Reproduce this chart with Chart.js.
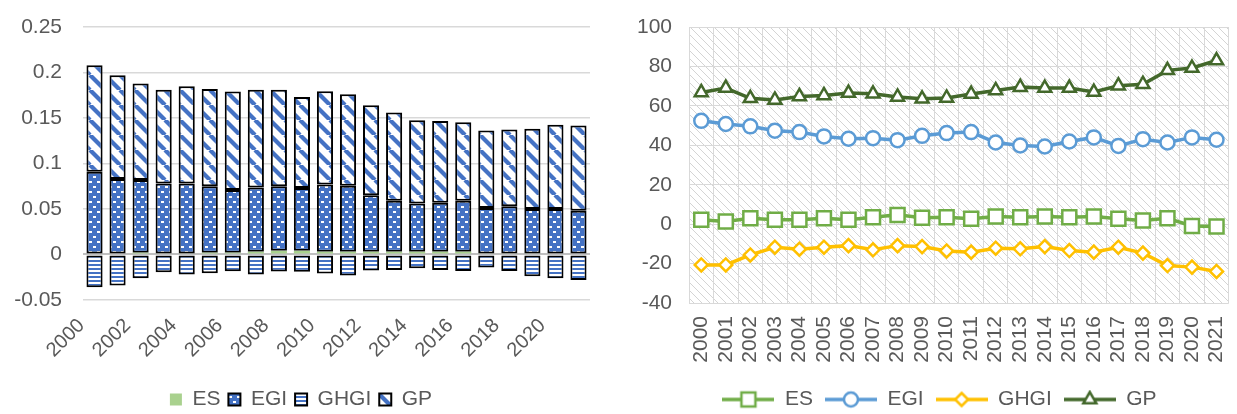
<!DOCTYPE html>
<html>
<head>
<meta charset="utf-8">
<script src="https://cdn.jsdelivr.net/npm/chart.js@4.4.1/dist/chart.umd.min.js"></script>
<style>
html, body { margin: 0; padding: 0; width: 1237px; height: 414px; overflow: hidden; background: #fff; }
#leftChart { position: absolute; left: 0; top: 0; }
#rightChart { position: absolute; left: 615px; top: 0; }
</style>
</head>
<body>
<canvas id="leftChart" width="615" height="420"></canvas>
<canvas id="rightChart" width="640" height="420"></canvas>
<script>
const years = ["2000", "2001", "2002", "2003", "2004", "2005", "2006", "2007", "2008", "2009", "2010",
    "2011", "2012", "2013", "2014", "2015", "2016", "2017", "2018", "2019", "2020", "2021"];

// left panel: stacked shares
const esShare = [0, 0, 0.002, 0.001, 0.001, 0.002, 0.002, 0.003, 0.004, 0.004, 0.003,
    0.003, 0.003, 0.003, 0.003, 0.003, 0.003, 0.001, 0.001, 0.001, 0, 0];
const egiShare = [0.091, 0.083, 0.080, 0.077, 0.077, 0.073, 0.069, 0.0705, 0.071, 0.069, 0.074,
    0.0725, 0.062, 0.056, 0.053, 0.054, 0.056, 0.050, 0.052, 0.049, 0.050, 0.048];
const ghgiShare = [-0.036, -0.034, -0.026, -0.0195, -0.022, -0.0206, -0.0184, -0.022, -0.0187, -0.019, -0.021,
    -0.023, -0.0176, -0.017, -0.015, -0.017, -0.018, -0.0143, -0.018, -0.024, -0.026, -0.028];
const gpShare = [0.117, 0.114, 0.106, 0.103, 0.107, 0.107, 0.108, 0.1075, 0.106, 0.100, 0.1025,
    0.1005, 0.099, 0.097, 0.0916, 0.0897, 0.0864, 0.0853, 0.0843, 0.0882, 0.0925, 0.0938];

// right panel: index lines
const esIndex = [2.2, 1.3, 3.0, 2.2, 2.2, 3.0, 2.2, 3.5, 4.7, 3.3, 3.5,
    2.7, 3.9, 3.5, 3.9, 3.5, 3.9, 2.7, 1.8, 3.0, -0.9, -1.2];
const egiIndex = [52.4, 50.8, 49.6, 47.4, 46.7, 44.5, 43.3, 43.6, 42.6, 44.8, 46.2,
    46.7, 41.4, 39.9, 39.4, 41.9, 44.0, 39.7, 43.1, 41.4, 44.0, 42.8];
const ghgiIndex = [-20.7, -20.7, -15.6, -11.7, -12.7, -11.7, -10.9, -13.0, -10.9, -11.4, -13.6,
    -14.2, -12.2, -12.5, -11.4, -13.4, -14.2, -11.7, -14.7, -21.0, -21.8, -24.0];
const gpIndex = [66.8, 69.0, 63.8, 63.0, 64.8, 65.3, 66.5, 66.1, 64.5, 63.6, 64.0,
    66.0, 67.8, 69.5, 69.0, 69.0, 67.0, 70.2, 71.0, 78.0, 79.2, 83.0];

const leftTicks = [-0.05, 0, 0.05, 0.1, 0.15, 0.2, 0.25];
const rightTicks = [-40, -20, 0, 20, 40, 60, 80, 100];

Chart.defaults.font.family = "'Liberation Sans', Arial, sans-serif";
Chart.defaults.font.size = 21;
Chart.defaults.color = "#595959";

function makePattern(w, h, draw) {
    const c = document.createElement("canvas");
    c.width = w;
    c.height = h;
    draw(c.getContext("2d"));
    return c.getContext("2d").createPattern(c, "repeat");
}

const blue = "#4472C4";
const egiFill = makePattern(8, 10, g => {
    g.fillStyle = blue; g.fillRect(0, 0, 8, 10);
    g.fillStyle = "#fff";
    g.fillRect(1, 1, 3, 2);
    g.fillRect(5, 6, 3, 2);
});
const ghgiFill = makePattern(4, 4, g => {
    g.fillStyle = blue; g.fillRect(0, 0, 4, 4);
    g.fillStyle = "#fff"; g.fillRect(0, 2, 4, 2);
});
const gpFill = makePattern(15, 15, g => {
    g.fillStyle = "#fff"; g.fillRect(0, 0, 15, 15);
    g.strokeStyle = blue; g.lineWidth = 4.2;
    [-15, 0, 15].forEach(o => {
        g.beginPath(); g.moveTo(o, 0); g.lineTo(o + 15, 15); g.stroke();
    });
});
const hatchFill = makePattern(8, 8, g => {
    g.fillStyle = "#fff"; g.fillRect(0, 0, 8, 8);
    g.strokeStyle = "#d4d4d4"; g.lineWidth = 1;
    [-8, 0, 8].forEach(o => {
        g.beginPath(); g.moveTo(o, 0); g.lineTo(o + 8, 8); g.stroke();
    });
});

// left: stacked bars
new Chart(document.getElementById("leftChart"), {
    type: "bar",
    data: {
        labels: years,
        datasets: [
            { label: "ES", data: esShare, backgroundColor: "#A9D18E", borderWidth: 0 },
            { label: "EGI", data: egiShare, backgroundColor: egiFill, borderColor: "#000", borderWidth: 2, borderSkipped: false },
            { label: "GHGI", data: ghgiShare, backgroundColor: ghgiFill, borderColor: "#000", borderWidth: 2, borderSkipped: false },
            { label: "GP", data: gpShare, backgroundColor: gpFill, borderColor: "#000", borderWidth: 2, borderSkipped: false }
        ]
    },
    options: {
        responsive: false,
        animation: false,
        devicePixelRatio: 1,
        layout: { padding: { left: 12, right: 25, top: 27, bottom: 0 } },
        datasets: { bar: { categoryPercentage: 1, barPercentage: 0.7 } },
        scales: {
            x: {
                stacked: true,
                grid: { display: false },
                border: { display: false },
                ticks: {
                    autoSkip: false, minRotation: 45, maxRotation: 45, padding: 6, labelOffset: -13,
                    font: { size: 20 },
                    callback: (v, i) => (i % 2 === 0 ? years[i] : "")
                },
                afterFit: s => { s.height = 81; }
            },
            y: {
                stacked: true,
                min: leftTicks[0],
                max: leftTicks[leftTicks.length - 1],
                afterBuildTicks: s => { s.ticks = leftTicks.map(v => ({ value: v })); },
                border: { display: false },
                grid: {
                    tickLength: 19,
                    tickColor: "rgba(0,0,0,0)",
                    color: c => (c.tick && c.tick.value === 0 ? "#bfbfbf" : "#d9d9d9"),
                    lineWidth: c => (c.tick && c.tick.value === 0 ? 2 : 1.5)
                },
                ticks: { padding: 2, callback: v => String(+v.toFixed(2)) },
                afterFit: s => { s.width = 71; }
            }
        },
        plugins: {
            tooltip: { enabled: false },
            legend: {
                position: "bottom",
                labels: { boxWidth: 12, boxHeight: 12, padding: 8 }
            }
        }
    }
});

// right: index lines
const lineColors = ["#70AD47", "#5B9BD5", "#FFC000", "#43682B"];
const markerStyles = ["rect", "circle", "rectRot", "triangle"];
const markerSizes = [9.9, 7, 6.5, 7.5];

function legendIcon(color, style, r) {
    const c = document.createElement("canvas");
    c.width = 52;
    c.height = 20;
    const g = c.getContext("2d");
    g.strokeStyle = color;
    g.lineWidth = 3.5;
    g.beginPath(); g.moveTo(0, 10); g.lineTo(52, 10); g.stroke();
    g.fillStyle = "#fff";
    g.lineWidth = 2.5;
    g.beginPath();
    if (style === "rect") {
        const s = r / Math.SQRT2;
        g.rect(26 - s, 10 - s, 2 * s, 2 * s);
    } else if (style === "circle") {
        g.arc(26, 10, r, 0, Math.PI * 2);
    } else if (style === "rectRot") {
        g.moveTo(26, 10 - r); g.lineTo(26 + r, 10); g.lineTo(26, 10 + r); g.lineTo(26 - r, 10); g.closePath();
    } else {
        g.moveTo(26, 10 - r);
        g.lineTo(26 + r * Math.sin(2 * Math.PI / 3), 10 + r / 2);
        g.lineTo(26 - r * Math.sin(2 * Math.PI / 3), 10 + r / 2);
        g.closePath();
    }
    g.fill();
    g.stroke();
    return c;
}
const legendIcons = lineColors.map((col, i) => legendIcon(col, markerStyles[i], markerSizes[i]));

const hatchBackground = {
    id: "hatchBackground",
    beforeDraw(chart) {
        const a = chart.chartArea;
        const ctx = chart.ctx;
        ctx.save();
        ctx.fillStyle = hatchFill;
        ctx.fillRect(a.left, a.top, a.right - a.left, a.bottom - a.top);
        ctx.restore();
    }
};

function lineSet(label, data, i) {
    return {
        label: label,
        data: data,
        borderColor: lineColors[i],
        backgroundColor: "#fff",
        borderWidth: 3.5,
        tension: 0,
        pointStyle: markerStyles[i],
        pointRadius: markerSizes[i],
        pointBorderWidth: 2.5,
        pointBackgroundColor: "#fff",
        pointBorderColor: lineColors[i]
    };
}

new Chart(document.getElementById("rightChart"), {
    type: "line",
    data: {
        labels: years,
        datasets: [
            lineSet("ES", esIndex, 0),
            lineSet("EGI", egiIndex, 1),
            lineSet("GHGI", ghgiIndex, 2),
            lineSet("GP", gpIndex, 3)
        ]
    },
    plugins: [hatchBackground],
    options: {
        responsive: false,
        animation: false,
        devicePixelRatio: 1,
        clip: false,
        layout: { padding: { left: 18, right: 9, top: 27, bottom: 0 } },
        scales: {
            x: {
                offset: true,
                grid: { offset: true, drawTicks: false, color: "#d9d9d9", lineWidth: 1 },
                border: { display: false },
                ticks: { autoSkip: false, minRotation: 90, maxRotation: 90, padding: 13 },
                afterFit: s => { s.height = 74; }
            },
            y: {
                min: rightTicks[0],
                max: rightTicks[rightTicks.length - 1],
                afterBuildTicks: s => { s.ticks = rightTicks.map(v => ({ value: v })); },
                border: { display: false },
                grid: { tickLength: 15, tickColor: "rgba(0,0,0,0)", color: "#d9d9d9", lineWidth: 1 },
                ticks: { padding: 2 },
                afterFit: s => { s.width = 56; }
            }
        },
        plugins: {
            tooltip: { enabled: false },
            legend: {
                position: "bottom",
                labels: {
                    usePointStyle: true,
                    pointStyleWidth: 52,
                    boxHeight: 20,
                    padding: 12,
                    generateLabels: chart => Chart.defaults.plugins.legend.labels.generateLabels(chart)
                        .map((item, i) => Object.assign(item, { pointStyle: legendIcons[i] }))
                }
            }
        }
    }
});
</script>
</body>
</html>
